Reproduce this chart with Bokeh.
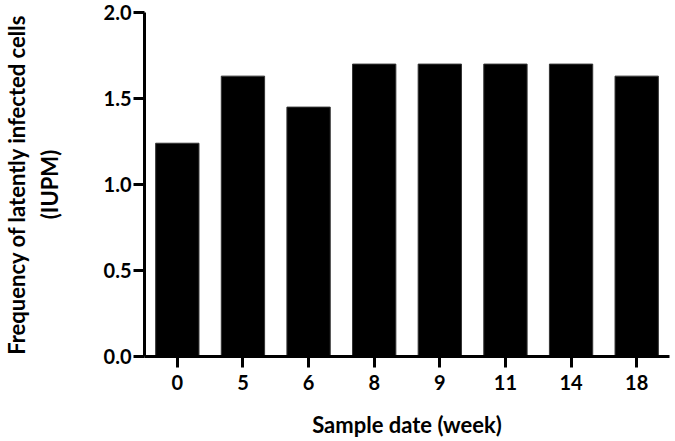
from bokeh.plotting import figure
from bokeh.models import FixedTicker, PrintfTickFormatter, Range1d, FactorRange
from bokeh.embed import file_html
from bokeh.resources import INLINE

weeks = ["0", "5", "6", "8", "9", "11", "14", "18"]
iupm = [1.24, 1.63, 1.45, 1.70, 1.70, 1.70, 1.70, 1.63]
y_ticks = [0.0, 0.5, 1.0, 1.5, 2.0]

FONT = "Lato"

p = figure(x_range=FactorRange(*weeks), y_range=Range1d(0, 2.0),
           frame_width=525, frame_height=344,
           output_backend="svg", toolbar_location=None,
           min_border_left=137, min_border_top=12, min_border_right=4, min_border_bottom=0)

p.vbar(x=weeks, top=iupm, width=0.66, fill_color="black", line_color="#333333", line_width=1)

p.xgrid.visible = False
p.ygrid.visible = False
p.outline_line_color = None

for axes in (p.xaxis, p.yaxis):
    axes.axis_line_width = 3
    axes.axis_line_color = "black"
    axes.major_tick_line_width = 3
    axes.major_tick_line_color = "black"
    axes.major_tick_out = 11
    axes.major_tick_in = 0
    axes.minor_tick_line_color = None
    axes.major_label_text_font = FONT
    axes.major_label_text_font_style = "bold"
    axes.major_label_text_font_size = "20px"
    axes.major_label_text_color = "black"
    axes.axis_label_text_font = FONT
    axes.axis_label_text_font_style = "bold"
    axes.axis_label_text_color = "black"

p.yaxis.ticker = FixedTicker(ticks=y_ticks)
p.yaxis.formatter = PrintfTickFormatter(format="%.1f")
p.yaxis.major_label_standoff = 2
p.yaxis.axis_label = "Frequency of latently infected cells\n(IUPM)"
p.yaxis.axis_label_text_font_size = "22px"
p.yaxis.axis_label_standoff = 38

p.xaxis.major_label_standoff = 7
p.xaxis.axis_label = "Sample date (week)"
p.xaxis.axis_label_text_font_size = "22px"
p.xaxis.axis_label_standoff = 18

open("out.html", "w").write(file_html(p, INLINE))
